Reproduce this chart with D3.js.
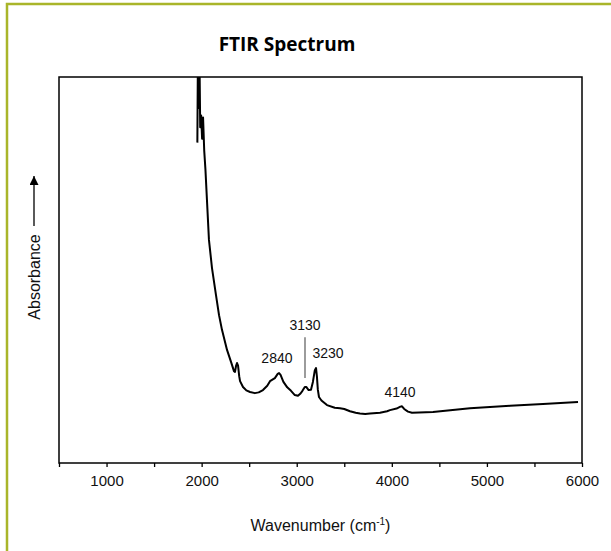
<!DOCTYPE html>
<html>
<head>
<meta charset="utf-8">
<title>FTIR Spectrum</title>
<script src="https://cdn.jsdelivr.net/npm/d3@7"></script>
<style>
	body { margin: 0; background: #fff; }
	text { font-family: "Liberation Sans", Arial, sans-serif; }
</style>
</head>
<body>
<div id="chart"></div>
<script>
// FTIR spectrum - absorbance vs. wavenumber.
// Absorbance is in arbitrary units (no y ticks on the chart).

// Spectrum samples: wavenumber (cm-1) and absorbance (a.u.)
var wavenumbers = [1955, 1962, 1968, 1975, 1985, 1995, 2005, 2015, 2027, 2040,
	2056, 2077, 2109, 2151, 2183, 2214, 2267, 2309, 2340, 2351,
	2362, 2372, 2383, 2395, 2404, 2435, 2470, 2509, 2560, 2600,
	2645, 2690, 2719, 2770, 2800, 2814, 2830, 2860, 2900, 2940,
	2980, 3013, 3040, 3060, 3085, 3100, 3125, 3150, 3170, 3190,
	3203, 3212, 3222, 3234, 3260, 3318, 3400, 3455, 3500, 3560,
	3620, 3665, 3720, 3771, 3876, 3950, 3981, 4050, 4090, 4107,
	4130, 4170, 4212, 4433, 4822, 5243, 5590, 5958];
var absorbance = [0.83, 1.10, 0.92, 1.10, 0.87, 0.90, 0.84, 0.895, 0.81, 0.76,
	0.681, 0.578, 0.505, 0.435, 0.383, 0.345, 0.293, 0.262, 0.238, 0.236,
	0.252, 0.259, 0.252, 0.225, 0.212, 0.197, 0.188, 0.184, 0.181, 0.183,
	0.189, 0.200, 0.212, 0.220, 0.231, 0.233, 0.228, 0.210, 0.196, 0.187,
	0.176, 0.174, 0.180, 0.187, 0.197, 0.197, 0.189, 0.190, 0.210, 0.240,
	0.246, 0.225, 0.190, 0.171, 0.162, 0.150, 0.143, 0.142, 0.140, 0.134,
	0.130, 0.128, 0.127, 0.128, 0.130, 0.134, 0.137, 0.141, 0.146, 0.147,
	0.140, 0.133, 0.130, 0.132, 0.142, 0.148, 0.153, 0.158];

// Peak annotations: label text and where the label sits (data coords)
var peakText = ['2840', '3130', '3230', '4140'];
var peakLabelW = [2792, 3087, 3329, 4086];
var peakLabelA = [0.259, 0.345, 0.272, 0.171];

// Leader line for the 3130 label
var leaderW = 3087;
var leaderA = [0.326, 0.220];

// X axis ticks
var majorTicks = [1000, 2000, 3000, 4000, 5000, 6000];
var minorTicks = [500, 1500, 2500, 3500, 4500, 5500];

var width = 611,
	height = 551;
var margin = { left: 59, right: 29, top: 77, bottom: 88 };
var plotW = width - margin.left - margin.right,
	plotH = height - margin.top - margin.bottom;

var svg = d3.select('#chart').append('svg')
	.attr('width', width)
	.attr('height', height);

// olive frame - only the top and left edges fall inside the picture
svg.append('rect')
	.attr('x', 7)
	.attr('y', 4)
	.attr('width', 700)
	.attr('height', 700)
	.style('fill', 'none')
	.style('stroke', '#a9b52a')
	.style('stroke-width', 2.5);

svg.append('text')
	.attr('x', 287)
	.attr('y', 51)
	.attr('text-anchor', 'middle')
	.style('font-family', '"Open Sans", sans-serif')
	.style('font-weight', 700)
	.style('font-size', '19px')
	.text('FTIR Spectrum');

var xScale = d3.scaleLinear().domain([500, 6000]).range([0, plotW]);
var yScale = d3.scaleLinear().domain([0, 1]).range([plotH, 0]);

var g = svg.append('g')
	.attr('transform', 'translate(' + margin.left + ',' + margin.top + ')');

svg.append('defs').append('clipPath')
	.attr('id', 'plotclip')
	.append('rect')
		.attr('width', plotW)
		.attr('height', plotH);

// spectrum line
var spectrum = wavenumbers.map(function(w, i) { return [w, absorbance[i]]; });
var line = d3.line()
	.x(function(d) { return xScale(d[0]); })
	.y(function(d) { return yScale(d[1]); });

g.append('path')
	.datum(spectrum)
	.attr('clip-path', 'url(#plotclip)')
	.attr('d', line)
	.style('fill', 'none')
	.style('stroke', '#000')
	.style('stroke-width', 2)
	.style('stroke-linejoin', 'round');

// plot frame
g.append('rect')
	.attr('width', plotW)
	.attr('height', plotH)
	.style('fill', 'none')
	.style('stroke', '#000')
	.style('stroke-width', 1.5);

// bottom axis: labelled major ticks plus unlabelled minor ticks
var xAxis = d3.axisBottom(xScale)
	.tickValues(majorTicks)
	.tickSize(4)
	.tickPadding(8)
	.tickFormat(d3.format('d'));
var axisG = g.append('g')
	.attr('transform', 'translate(0,' + plotH + ')')
	.call(xAxis);
axisG.select('.domain').remove();
axisG.selectAll('text')
	.style('font-family', '"Liberation Sans", Arial, sans-serif')
	.style('font-size', '15px')
	.style('fill', '#111');

g.append('g')
	.attr('transform', 'translate(0,' + plotH + ')')
	.call(d3.axisBottom(xScale).tickValues(minorTicks).tickSize(4).tickFormat(''))
	.select('.domain').remove();

g.selectAll('.tick line').style('stroke', '#000').style('stroke-width', 1.3);

// peak labels
g.selectAll('text.peak')
	.data(peakText)
	.enter()
		.append('text')
		.attr('class', 'peak')
		.attr('x', function(d, i) { return xScale(peakLabelW[i]); })
		.attr('y', function(d, i) { return yScale(peakLabelA[i]); })
		.attr('text-anchor', 'middle')
		.style('font-size', '14px')
		.style('fill', '#111')
		.text(function(d) { return d; });

g.append('line')
	.attr('x1', xScale(leaderW))
	.attr('x2', xScale(leaderW))
	.attr('y1', yScale(leaderA[0]))
	.attr('y2', yScale(leaderA[1]))
	.style('stroke', '#666')
	.style('stroke-width', 1.3);

// x axis title with superscript
var xTitle = svg.append('text')
	.attr('x', margin.left + plotW / 2)
	.attr('y', 531)
	.attr('text-anchor', 'middle')
	.style('font-size', '16px')
	.style('fill', '#111');
xTitle.append('tspan').text('Wavenumber (cm');
xTitle.append('tspan').attr('dy', -6).style('font-size', '10px').text('-1');
xTitle.append('tspan').attr('dy', 6).text(')');

// y axis title with arrow
svg.append('text')
	.attr('transform', 'translate(40,277) rotate(-90)')
	.attr('text-anchor', 'middle')
	.style('font-size', '16px')
	.style('fill', '#111')
	.text('Absorbance');

svg.append('defs').append('marker')
	.attr('id', 'arrowhead')
	.attr('viewBox', '0 0 10 10')
	.attr('refX', 10)
	.attr('refY', 5)
	.attr('markerWidth', 9)
	.attr('markerHeight', 9)
	.attr('markerUnits', 'userSpaceOnUse')
	.attr('orient', 'auto')
	.append('path')
		.attr('d', 'M0,0L10,5L0,10z')
		.style('fill', '#000');

svg.append('line')
	.attr('x1', 34)
	.attr('x2', 34)
	.attr('y1', 226)
	.attr('y2', 176)
	.attr('marker-end', 'url(#arrowhead)')
	.style('stroke', '#000')
	.style('stroke-width', 1.3);
</script>
</body>
</html>
